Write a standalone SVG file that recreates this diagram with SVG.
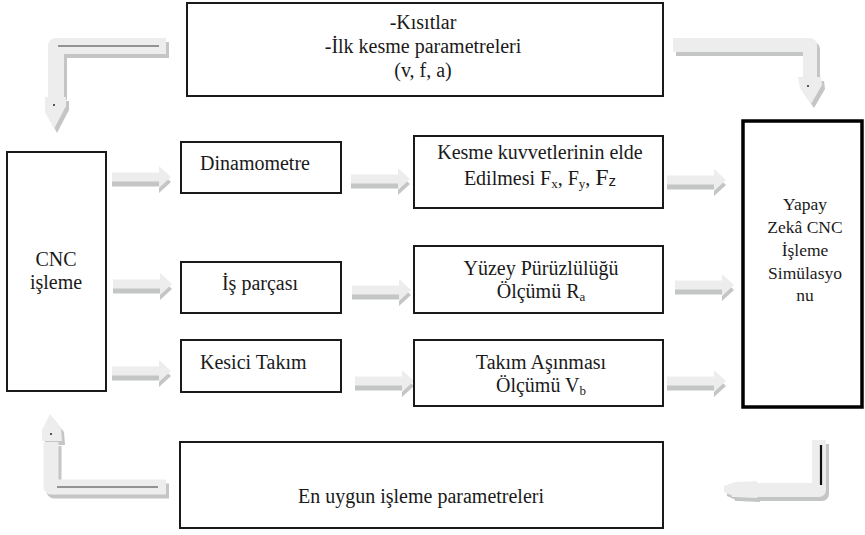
<svg xmlns="http://www.w3.org/2000/svg" xmlns:xlink="http://www.w3.org/1999/xlink" width="865" height="535" viewBox="0 0 865 535">
  <style>
    .box { fill: #ffffff; stroke: #1a1a1a; stroke-width: 2; }
    .thick { fill: #ffffff; stroke: #000000; stroke-width: 3.5; }
    .t { font-family: "Liberation Serif", "Times New Roman", serif; font-size: 20px; fill: #1a1a1a; }
    .c { text-anchor: middle; }
    .sm { font-size: 17.5px; }
    .big { font-size: 24px; }
    .sub { font-size: 13px; }
    .hi { fill: #ededed; }
    .sh { fill: #c4c5c5; }
    .barhi { fill: none; stroke: #ededed; stroke-linejoin: round; }
    .barsh { fill: none; stroke: #c4c5c5; stroke-linejoin: round; }
    .groove { stroke: #3a3a3a; stroke-width: 1.2; fill: none; }
  </style>
  <defs>
    <!-- short block arrow: tail at origin, pointing right -->
    <g id="blockArrow">
      <path class="sh" d="M0,0.5 H47 V-6 L59,5 L47,16 V9.5 H0 Z"/>
      <path class="hi" d="M0,-4.5 H47 V-11 L59,0 L47,11 V4.5 H0 Z"/>
    </g>
  </defs>

  <!-- connectors -->
  <g id="connectors">
    <use xlink:href="#blockArrow" transform="translate(112,177)"/>
    <use xlink:href="#blockArrow" transform="translate(351,179)"/>
    <use xlink:href="#blockArrow" transform="translate(667,180)"/>
    <use xlink:href="#blockArrow" transform="translate(113,284)"/>
    <use xlink:href="#blockArrow" transform="translate(352,290)"/>
    <use xlink:href="#blockArrow" transform="translate(675,285)"/>
    <use xlink:href="#blockArrow" transform="translate(112,371)"/>
    <use xlink:href="#blockArrow" transform="translate(355,381)"/>
    <use xlink:href="#blockArrow" transform="translate(667,381)"/>

    <!-- bent arrow: top box to CNC -->
    <g id="bend-top-left">
      <path class="barsh" stroke-width="16" d="M169,50 H59 V100"/>
      <polygon class="sh" points="48,101 69,101 69,110 57,133 48,116"/>
      <path class="barhi" stroke-width="16" d="M166,46 H56 V100"/>
      <polygon class="hi" points="45,97 66,97 66,106 54,129 45,112"/>
      <path class="groove" d="M58,46 H159"/>
      <circle cx="54" cy="105" r="1" fill="#222"/>
    </g>

    <!-- bent arrow: top box to simulation -->
    <g id="bend-top-right">
      <path class="barsh" stroke-width="14" d="M676,49 H813 V82"/>
      <polygon class="sh" points="801,81 824,81 825,89 814,108 803,92"/>
      <path class="barhi" stroke-width="14" d="M673,45 H810 V79"/>
      <polygon class="hi" points="798,77 821,77 822,85 811,104 800,88"/>
      <circle cx="808" cy="86" r="1" fill="#222"/>
    </g>

    <!-- bent arrow: optimum parameters back to CNC -->
    <g id="bend-bottom-left">
      <path class="barsh" stroke-width="15" d="M54,446 V491 H169"/>
      <polygon class="sh" points="45,445 45,434 53,418 64,432 65,445"/>
      <path class="barhi" stroke-width="15" d="M51,442 V487 H166"/>
      <polygon class="hi" points="42,441 42,430 50,414 61,428 62,441"/>
      <path class="groove" d="M57,487 H158"/>
      <circle cx="51" cy="434" r="1" fill="#222"/>
    </g>

    <!-- bent arrow: simulation to optimum parameters -->
    <g id="bend-bottom-right">
      <path class="barsh" stroke-width="14" d="M822,444 V494 H735"/>
      <polygon class="sh" points="760,485 738,486 727,490 727,496 738,501 760,502"/>
      <path class="barhi" stroke-width="14" d="M819,440 V490 H732"/>
      <polygon class="hi" points="757,481 735,482 724,486 724,492 735,497 757,498"/>
      <path d="M821,445 V485" stroke="#111" stroke-width="2.2"/>
    </g>
  </g>

  <!-- nodes -->
  <g id="inputs">
    <rect class="box" x="187" y="3" width="476" height="93"/>
    <text class="t c" x="423" y="29">-Kısıtlar</text>
    <text class="t c" x="423" y="53">-İlk kesme parametreleri</text>
    <text class="t c" x="423" y="77">(v, f, a)</text>
  </g>

  <g id="cnc">
    <rect class="box" x="7" y="152" width="99" height="239"/>
    <text class="t c" x="56" y="266">CNC</text>
    <text class="t c" x="56" y="289">işleme</text>
  </g>

  <g id="dinamometre">
    <rect class="box" x="181" y="142" width="160" height="51"/>
    <text class="t" x="200" y="170">Dinamometre</text>
  </g>

  <g id="is-parcasi">
    <rect class="box" x="181" y="262" width="160" height="51"/>
    <text class="t c" x="260" y="290">İş parçası</text>
  </g>

  <g id="kesici-takim">
    <rect class="box" x="181" y="340" width="160" height="52"/>
    <text class="t" x="200" y="369">Kesici Takım</text>
  </g>

  <g id="kesme-kuvvetleri">
    <rect class="box" x="414" y="136" width="249" height="72"/>
    <text class="t c" x="540" y="159">Kesme kuvvetlerinin elde</text>
    <text class="t c" x="540" y="185">Edilmesi F<tspan class="sub" dy="3">x</tspan><tspan dy="-3">, F</tspan><tspan class="sub" dy="3">y</tspan><tspan dy="-3">, </tspan><tspan class="big">F</tspan><tspan font-family="Liberation Sans, Arial, sans-serif" font-size="15" dy="1">z</tspan></text>
  </g>

  <g id="yuzey-puruzlulugu">
    <rect class="box" x="414" y="246" width="249" height="67"/>
    <text class="t c" x="541" y="275">Yüzey Pürüzlülüğü</text>
    <text class="t c" x="541" y="298">Ölçümü R<tspan class="sub" dy="3">a</tspan></text>
  </g>

  <g id="takim-asinmasi">
    <rect class="box" x="414" y="340" width="249" height="66"/>
    <text class="t c" x="541" y="369">Takım Aşınması</text>
    <text class="t c" x="541" y="392">Ölçümü V<tspan class="sub" dy="3">b</tspan></text>
  </g>

  <g id="simulasyon">
    <rect class="thick" x="743" y="121" width="119" height="286"/>
    <text class="t sm c" x="805" y="210">Yapay</text>
    <text class="t sm c" x="805" y="233">Zekâ CNC</text>
    <text class="t sm c" x="805" y="256">İşleme</text>
    <text class="t sm c" x="805" y="279">Simülasyo</text>
    <text class="t sm c" x="805" y="301">nu</text>
  </g>

  <g id="optimum">
    <rect class="box" x="180" y="442" width="483" height="86"/>
    <text class="t c" x="421" y="503" font-size="25">En uygun işleme parametreleri</text>
  </g>
</svg>
